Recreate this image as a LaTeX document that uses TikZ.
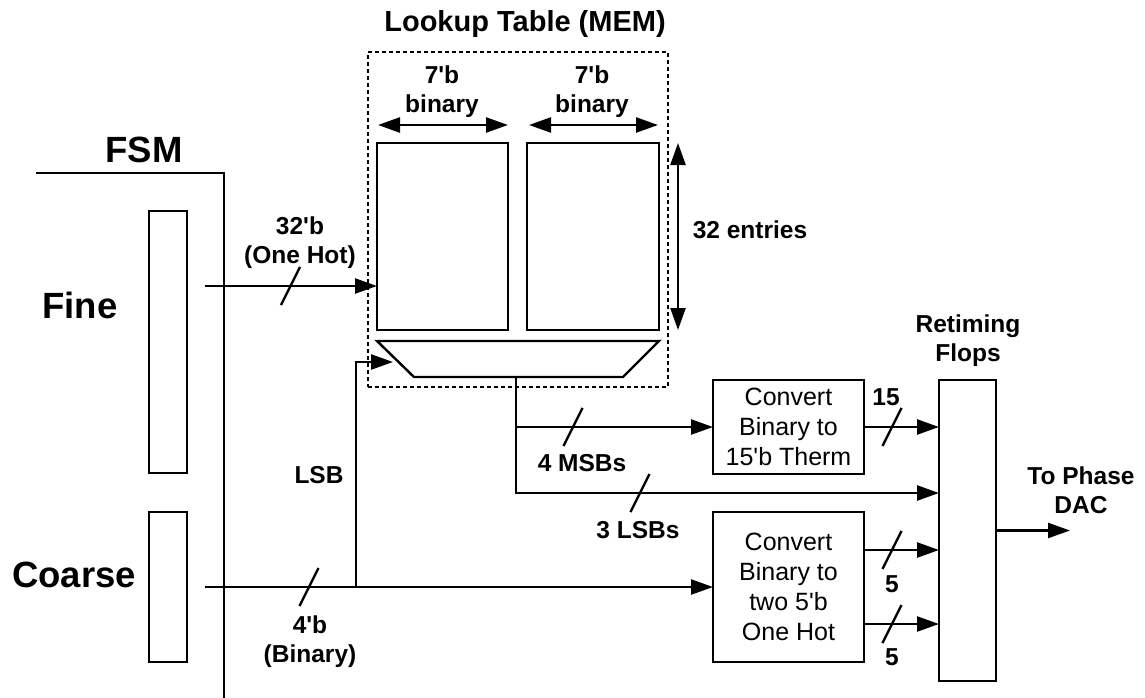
\documentclass[tikz,border=0pt]{standalone}
\usepackage{fontspec}
\setmainfont{Liberation Sans}[Ligatures=TeXOff]
\usetikzlibrary{arrows.meta,calc}
\begin{document}
\begin{tikzpicture}[x=1pt,y=-1pt,line width=2.4pt,
  box/.style={draw,rectangle,inner sep=0pt,outer sep=0pt},
  arr/.style={-{Triangle[length=22pt,width=15pt]}},
  darr/.style={{Triangle[length=22pt,width=15pt]}-{Triangle[length=22pt,width=15pt]}},
  slash/.style={line width=2.4pt},
  lbl/.style={font=\fontsize{24.5}{29}\selectfont\bfseries,align=center,inner sep=0pt},
  big/.style={font=\fontsize{36.5}{40}\selectfont\bfseries,inner sep=0pt},
  conv/.style={box,font=\fontsize{25}{30}\selectfont,align=center},
  dotbox/.style={draw,rectangle,inner sep=0pt,dash pattern=on 4pt off 3pt,line width=2.2pt}]
\useasboundingbox (0,0) rectangle (1145,698);
% FSM outline
\draw (36,173) -- (224,173) -- (224,698);
\node[big] (fsm) at (144,150) {FSM};
\node[big] (finel) at (80,305) {Fine};
\node[big] (coarsel) at (74,575) {Coarse};
\node[box,minimum width=38pt,minimum height=262pt] (fine) at (168,342) {};
\node[box,minimum width=38pt,minimum height=150pt] (coarse) at (168,587) {};
% Lookup table
\node[dotbox,minimum width=300pt,minimum height=335pt] (lut) at (518,219.5) {};
\node[font=\fontsize{29}{32}\selectfont\bfseries,inner sep=0pt] (luttitle) at (525,24) {Lookup Table (MEM)};
\node[box,minimum width=131pt,minimum height=187pt] (memL) at (442.5,236.5) {};
\node[box,minimum width=132pt,minimum height=187pt] (memR) at (593,236.5) {};
\coordinate (tA) at (377,341); \coordinate (tB) at (659,341);
\coordinate (tC) at (623,377); \coordinate (tD) at (414,377);
\draw (tA) -- (tB) -- (tC) -- (tD) -- cycle;
\coordinate (muxout) at (516,377);
\coordinate (muxin) at (393,362);
% width/height arrows
\coordinate (wl1) at (378,125); \coordinate (wl2) at (508,125);
\coordinate (wr1) at (529,125); \coordinate (wr2) at (658,125);
\coordinate (h1) at (678,143); \coordinate (h2) at (678,330);
\draw[darr] (wl1) -- (wl2);
\draw[darr] (wr1) -- (wr2);
\draw[darr] (h1) -- (h2);
\node[lbl] (bl) at (442,92) {7'b\\binary};
\node[lbl] (br) at (592,92) {7'b\\binary};
\node[lbl] (ent) at (750,230) {32 entries};
% converters and flops
\node[conv,minimum width=151pt,minimum height=94pt] (conv1) at (788.5,427) {Convert\\Binary to\\15'b Therm};
\node[conv,minimum width=151pt,minimum height=150pt] (conv2) at (788.5,587) {Convert\\Binary to\\two 5'b\\One Hot};
\node[box,minimum width=57pt,minimum height=301pt] (ret) at (967.5,530.5) {};
\node[lbl] (retl) at (968,341) {Retiming\\Flops};
\node[lbl] (dacl) at (1081,490) {To Phase\\DAC};
% connectors
\coordinate (fineout) at (205,286);
\draw[arr] (fineout) -- (fineout -| memL.west);
\draw[slash] (290.5,286) ++(-9.5,19) -- ++(19,-38);
\node[lbl] (l32) at (300,243) {32'b\\(One Hot)};
\coordinate (coarseout) at (205,587);
\coordinate (lsbj) at (356,587);
\draw[arr] (coarseout) -- (conv2.west);
\draw[arr] (lsbj) -- (lsbj |- muxin) -- (muxin);
\draw[slash] (309,587) ++(-9.5,19) -- ++(19,-38);
\node[lbl] (l4b) at (310,642) {4'b\\(Binary)};
\node[lbl] (llsb) at (319,475) {LSB};
\coordinate (lsbs) at (516,493);
\coordinate (msbj) at (516,427);
\draw[arr] (muxout) -- (lsbs) -- (lsbs -| ret.west);
\draw[arr] (msbj) -- (conv1.west);
\draw[slash] (573,427) ++(-9.5,19) -- ++(19,-38);
\draw[slash] (640,493) ++(-9.5,19) -- ++(19,-38);
\node[lbl] (lmsb) at (582,463) {4 MSBs};
\node[lbl] (l3lsb) at (638,530) {3 LSBs};
\draw[arr] (conv1.east) -- (conv1.east -| ret.west);
\draw[slash] (892,427) ++(-9.5,19) -- ++(19,-38);
\node[lbl] (l15) at (886,397) {15};
\coordinate (c2a) at (864,550); \coordinate (c2b) at (864,624);
\draw[arr] (c2a) -- (c2a -| ret.west);
\draw[arr] (c2b) -- (c2b -| ret.west);
\draw[slash] (892,550) ++(-9.5,19) -- ++(19,-38);
\draw[slash] (892,624) ++(-9.5,19) -- ++(19,-38);
\node[lbl] (l5a) at (892,584) {5};
\node[lbl] (l5b) at (892,657) {5};
\coordinate (dac) at (1070,530.5);
\draw[arr] (ret.east) -- (dac);
\end{tikzpicture}
\end{document}
